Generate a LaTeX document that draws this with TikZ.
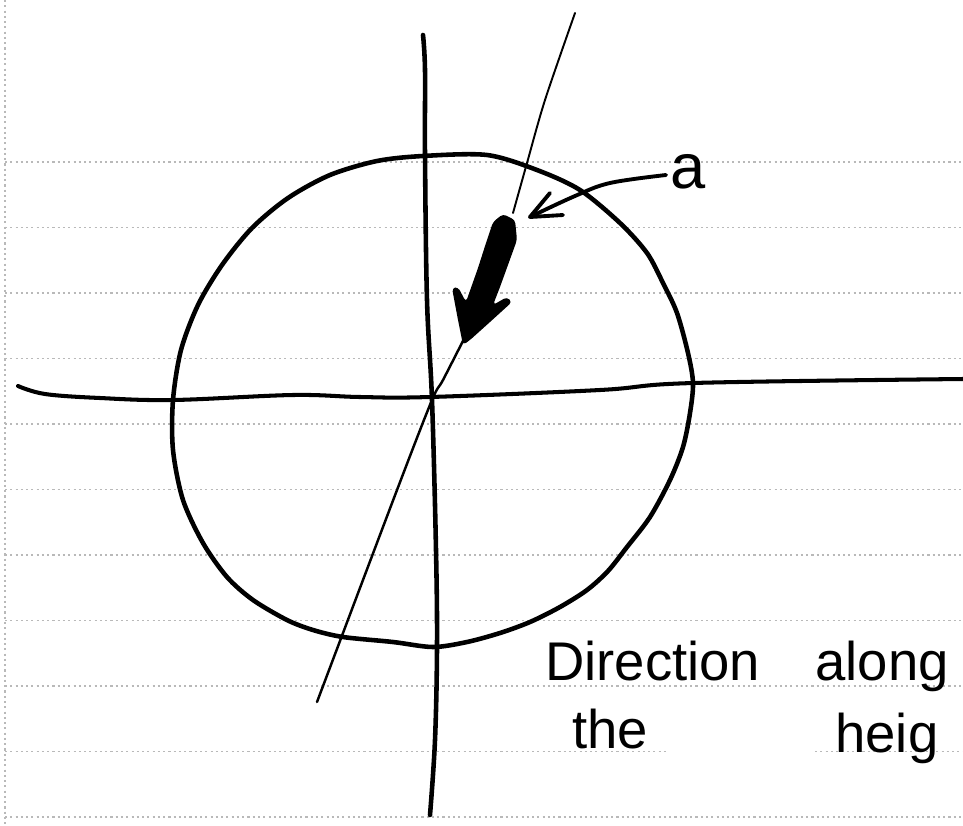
\documentclass[tikz,border=0pt]{standalone}
\usepackage{fontspec}
\setmainfont{Liberation Sans}
\begin{document}
\begin{tikzpicture}[x=0.02cm,y=-0.02cm,
  ruled/.style={gray!55, line width=0.6pt, dash pattern=on 1.2pt off 1.8pt},
  ink/.style={black, line width=2.6pt, line cap=round, line join=round},
  thinink/.style={black, line width=1.1pt, line cap=round, line join=round},
  hand/.style={font=\fontsize{31}{36}\selectfont, inner sep=0pt, anchor=base west}]
\useasboundingbox (0,0) rectangle (963,825);
\fill[white] (0,0) rectangle (963,825);
% ruled paper
\foreach \k in {0,...,8,10} { \draw[ruled] (5,{162+65.5*\k}) -- (963,{162+65.5*\k}); }
\draw[ruled] (5,751.5) -- (668,751.5);
\draw[ruled] (815,751.5) -- (963,751.5);
\draw[ruled] (5,0) -- (5,825);
% coordinates
\coordinate (vtop) at (423,35);
\coordinate (vbot) at (430,815);
\coordinate (hleft) at (18,386);
\coordinate (hright) at (963,379);
\coordinate (stop) at (575,13);
\coordinate (sbot) at (317,702);
\coordinate (atip) at (530,217);
% circle
\draw[ink] plot[smooth cycle, tension=0.5] coordinates {
 (423,156) (487,155) (537,170) (580,190) (620,223) (647,253) (663,283) (677,313)
 (688,353) (693,383) (690,413) (683,447) (670,480) (650,517) (627,547) (608,571)
 (587,590) (560,607) (530,622) (500,633) (467,642) (433,647) (393,642) (343,637)
 (313,630) (287,620) (253,600) (227,577) (203,543) (183,500) (173,450) (173,400)
 (181,350) (198,305) (222,265) (252,228) (288,198) (330,175) (377,161)};
% vertical axis
\draw[ink] plot[smooth, tension=0.6] coordinates {(vtop) (425,70) (425,155) (427,300) (432,400) (436,550) (437,647) (435,740) (vbot)};
% horizontal axis
\draw[ink, line width=2.3pt] plot[smooth, tension=0.6] coordinates {(hleft) (45,394) (100,398) (173,400) (293,395) (360,397) (430,397) (600,390) (693,383) (hright)};
% slanted line
\draw[thinink] plot[smooth, tension=0.5] coordinates {(stop) (545,100) (527,163) (513,213)};
\draw[thinink, line width=1.4pt] plot[smooth, tension=0.5] coordinates {(466,335) (443,380) (432,400) (397,490) (sbot)};
% thick arrow
\fill[black, rounded corners=2pt] (493,222) -- (503,214) -- (515,220) -- (517,240) -- (500,287) -- (493,305)
  -- (507,297) -- (512,302) -- (490,322) -- (470,340) -- (463,345) -- (458,320) -- (452,288)
  -- (458,287) -- (466,302) -- (478,268) -- (486,243) -- cycle;
% label a
\node[font=\fontsize{36}{40}\selectfont, inner sep=0pt] (a) at (688,172) {a};
\draw[ink, line width=2.2pt] (a.west) ++(-4,3) coordinate (astart)
   plot[smooth, tension=0.6] coordinates {(astart) (610,183) (575,196) (atip)};
\draw[ink, line width=2.2pt] (550,193) -- (atip) -- (563,215);
% text
\node[hand] (w1) at (545,680) {Direction};
\node[hand] (w2) at (815,680) {along};
\node[hand] (w3) at (572,748) {the};
\node[hand] (w4) at (835,752) {heig};
\end{tikzpicture}
\end{document}
